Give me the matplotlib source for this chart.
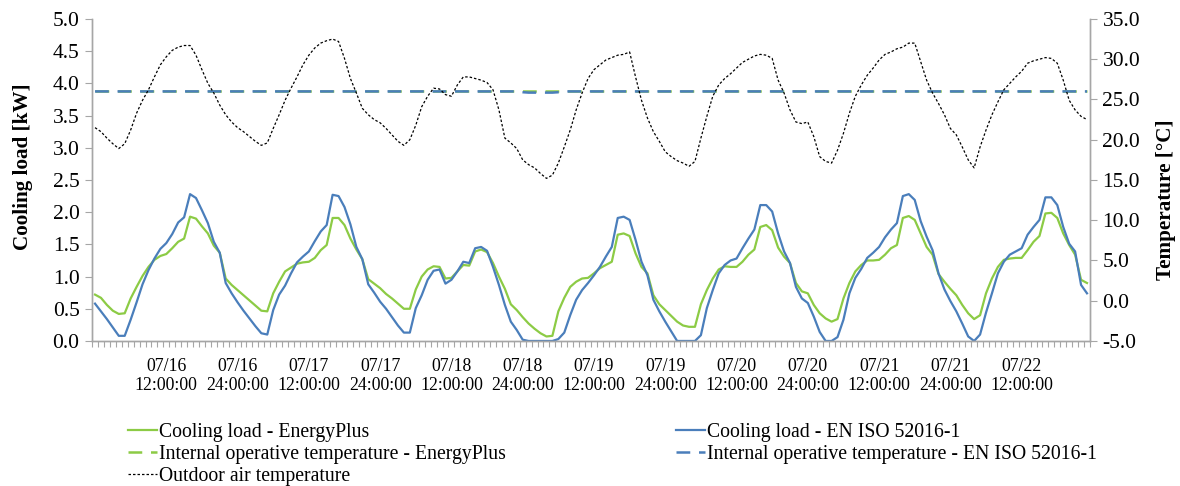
import numpy as np
import matplotlib
matplotlib.use("Agg")
import matplotlib.pyplot as plt
from matplotlib.ticker import FixedLocator, FormatStrFormatter

# godziny 07/16 00:00 ... 07/22 23:00
hours = np.arange(168)

# Cooling load - EnergyPlus [kW]
cool_eplus = [
    0.72, 0.67, 0.56, 0.47, 0.42, 0.43, 0.66, 0.84, 1.01, 1.15, 1.26, 1.32, 1.35, 1.44, 1.54, 1.59, 1.93, 1.90, 1.78, 1.67, 1.48, 1.37, 0.97, 0.87,
    0.79, 0.71, 0.63, 0.55, 0.47, 0.46, 0.74, 0.92, 1.08, 1.14, 1.20, 1.22, 1.23, 1.29, 1.41, 1.49, 1.91, 1.91, 1.80, 1.59, 1.42, 1.27, 0.96, 0.89,
    0.82, 0.73, 0.66, 0.58, 0.50, 0.50, 0.80, 1.00, 1.11, 1.16, 1.15, 0.97, 0.98, 1.08, 1.18, 1.17, 1.39, 1.42, 1.38, 1.21, 1.00, 0.81, 0.57, 0.48,
    0.37, 0.27, 0.19, 0.12, 0.07, 0.08, 0.46, 0.67, 0.84, 0.92, 0.97, 0.98, 1.05, 1.13, 1.18, 1.23, 1.65, 1.67, 1.63, 1.36, 1.15, 1.05, 0.71, 0.57,
    0.48, 0.39, 0.30, 0.24, 0.22, 0.22, 0.57, 0.79, 0.97, 1.11, 1.16, 1.15, 1.15, 1.23, 1.34, 1.42, 1.77, 1.80, 1.72, 1.45, 1.31, 1.21, 0.90, 0.77,
    0.74, 0.56, 0.43, 0.35, 0.30, 0.34, 0.66, 0.90, 1.08, 1.18, 1.25, 1.25, 1.26, 1.34, 1.44, 1.49, 1.91, 1.94, 1.88, 1.67, 1.46, 1.34, 1.04, 0.92,
    0.81, 0.71, 0.56, 0.43, 0.34, 0.40, 0.74, 0.97, 1.15, 1.26, 1.28, 1.29, 1.29, 1.41, 1.54, 1.63, 1.98, 1.99, 1.91, 1.67, 1.49, 1.34, 0.95, 0.90,
]

# Cooling load - EN ISO 52016-1 [kW]
cool_iso = [
    0.58, 0.46, 0.34, 0.21, 0.08, 0.08, 0.33, 0.60, 0.88, 1.10, 1.28, 1.43, 1.52, 1.66, 1.84, 1.92, 2.28, 2.22, 2.03, 1.83, 1.54, 1.37, 0.90, 0.74,
    0.60, 0.47, 0.35, 0.23, 0.12, 0.10, 0.48, 0.72, 0.86, 1.05, 1.22, 1.31, 1.39, 1.55, 1.70, 1.80, 2.27, 2.25, 2.08, 1.81, 1.46, 1.27, 0.88, 0.75,
    0.61, 0.50, 0.37, 0.24, 0.13, 0.13, 0.51, 0.71, 0.95, 1.09, 1.11, 0.89, 0.95, 1.08, 1.23, 1.21, 1.44, 1.46, 1.40, 1.15, 0.87, 0.56, 0.30, 0.17,
    0.02, 0.00, 0.00, 0.00, 0.00, 0.00, 0.03, 0.13, 0.40, 0.64, 0.79, 0.90, 1.02, 1.15, 1.31, 1.46, 1.91, 1.93, 1.88, 1.57, 1.23, 1.02, 0.64, 0.46,
    0.30, 0.15, 0.00, 0.00, 0.00, 0.00, 0.09, 0.51, 0.79, 1.05, 1.18, 1.25, 1.28, 1.44, 1.59, 1.73, 2.11, 2.11, 2.01, 1.67, 1.39, 1.21, 0.84, 0.66,
    0.59, 0.38, 0.14, 0.00, 0.00, 0.06, 0.33, 0.74, 0.98, 1.12, 1.29, 1.37, 1.46, 1.61, 1.73, 1.83, 2.25, 2.28, 2.19, 1.86, 1.62, 1.41, 1.05, 0.80,
    0.62, 0.46, 0.27, 0.07, 0.00, 0.10, 0.44, 0.74, 1.05, 1.23, 1.34, 1.39, 1.44, 1.65, 1.77, 1.88, 2.23, 2.23, 2.11, 1.77, 1.51, 1.39, 0.87, 0.74,
]

# Outdoor air temperature [°C]
t_out = [
    21.5, 21.0, 20.2, 19.5, 18.9, 19.5, 21.2, 23.3, 24.9, 26.2, 27.8, 29.3, 30.3, 31.1, 31.5, 31.7, 31.7, 30.5, 28.7, 27.0, 25.8, 24.3, 23.1, 22.2,
    21.5, 21.0, 20.4, 19.8, 19.3, 19.6, 21.4, 23.1, 24.9, 26.4, 27.8, 29.3, 30.5, 31.4, 32.0, 32.3, 32.5, 32.2, 30.1, 27.6, 25.8, 23.9, 23.1, 22.5,
    22.1, 21.4, 20.6, 19.8, 19.3, 20.0, 21.8, 24.1, 25.4, 26.4, 26.3, 25.6, 25.4, 26.8, 27.8, 27.8, 27.6, 27.4, 27.1, 26.2, 23.7, 20.2, 19.6, 18.9,
    17.5, 16.9, 16.5, 15.8, 15.2, 15.6, 17.1, 19.1, 21.2, 23.7, 25.8, 27.6, 28.7, 29.3, 29.9, 30.2, 30.5, 30.6, 30.9, 27.8, 24.9, 22.7, 21.0, 19.8,
    18.5, 17.9, 17.4, 17.1, 16.7, 17.3, 20.2, 22.9, 25.4, 26.8, 27.6, 28.2, 28.9, 29.6, 30.0, 30.4, 30.6, 30.5, 30.1, 27.4, 25.8, 23.7, 22.2, 22.0,
    22.2, 20.4, 17.9, 17.3, 17.1, 18.7, 20.8, 23.3, 25.4, 26.8, 28.0, 28.9, 29.9, 30.6, 30.9, 31.3, 31.5, 32.0, 32.0, 29.7, 27.4, 25.8, 24.5, 23.1,
    21.4, 20.6, 19.1, 17.5, 16.5, 19.1, 21.2, 23.1, 24.7, 26.2, 27.0, 27.8, 28.5, 29.5, 29.8, 30.0, 30.2, 30.1, 29.5, 27.4, 24.9, 23.7, 22.9, 22.5,
]

# Internal operative temperature [°C]
t_op_eplus = [26.0] * 168
t_op_iso = [26.0] * 72 + [25.9] + [25.85] * 5 + [25.9] + [26.0] * 89

tick_hours = list(range(12, 168, 12))[:13]
tick_labels = []
for h in tick_hours:
    day = 16 + (h - 1) // 24
    hh = 12 if h % 24 == 12 else 24
    tick_labels.append("07/%d\n%d:00:00" % (day, hh))

plt.rcParams['font.family'] = ['Liberation Serif', 'DejaVu Serif']

green = "#8CCB45"
blue = "#4A7EBB"
grey = "#A6A6A6"

fig = plt.figure(figsize=(11.8, 4.86), dpi=100)
ax = fig.add_axes([0.078, 0.2984, 0.8457, 0.6626])
ax2 = ax.twinx()

l1, = ax.plot(hours, cool_eplus, color=green, lw=1.6, label="Cooling load - EnergyPlus")
l2, = ax.plot(hours, cool_iso, color=blue, lw=1.6, label="Cooling load - EN ISO 52016-1")
l3, = ax2.plot(hours, t_op_eplus, color=green, lw=1.8, dashes=(5.5, 3.5),
               label="Internal operative temperature - EnergyPlus")
l4, = ax2.plot(hours, t_op_iso, color=blue, lw=1.8, dashes=(5.5, 3.5),
               label="Internal operative temperature - EN ISO 52016-1")
l5, = ax2.plot(hours, t_out, color="black", lw=0.9, dashes=(2, 1.6),
               label="Outdoor air temperature")

ax.set_xlim(-0.5, 167.5)
ax.set_ylim(0, 5)
ax2.set_ylim(-5, 35)
ax.set_yticks(np.arange(0, 5.01, 0.5))
ax2.set_yticks(np.arange(-5, 35.01, 5))
ax.yaxis.set_major_formatter(FormatStrFormatter("%.1f"))
ax2.yaxis.set_major_formatter(FormatStrFormatter("%.1f"))

ax.set_xticks(tick_hours)
ax.set_xticklabels(tick_labels, fontsize=12.8, linespacing=1.15)
ax.xaxis.set_minor_locator(FixedLocator(np.arange(-0.5, 168, 1)))
ax.tick_params(axis="x", which="major", length=0, pad=12)
ax.tick_params(axis="x", which="minor", length=4, color=grey, width=0.8)
ax.tick_params(axis="y", length=5, color=grey, labelsize=15.5, pad=4)
ax2.tick_params(axis="y", length=5, color=grey, labelsize=15.5, pad=4)

for a in (ax, ax2):
    a.spines["top"].set_visible(False)
    for s in ("left", "right", "bottom"):
        a.spines[s].set_color(grey)
        a.spines[s].set_linewidth(1.0)

ax.set_ylabel("Cooling load [kW]", fontsize=15.2, fontweight="bold")
ax2.set_ylabel("Temperature [°C]", fontsize=15.2, fontweight="bold")
ax.yaxis.set_label_coords(-0.059, 0.54)
ax2.yaxis.set_label_coords(1.066, 0.44)

leg_kw = dict(loc="upper left", frameon=False, fontsize=14.2, handlelength=1.45,
              handletextpad=0.1, labelspacing=0.15, borderaxespad=0, borderpad=0)
fig.legend(handles=[l1, l3, l5], bbox_to_anchor=(128 / 1180, 1 - 423 / 486), **leg_kw)
fig.legend(handles=[l2, l4], bbox_to_anchor=(676 / 1180, 1 - 423 / 486), **leg_kw)

fig.savefig("out.png", dpi=100)
